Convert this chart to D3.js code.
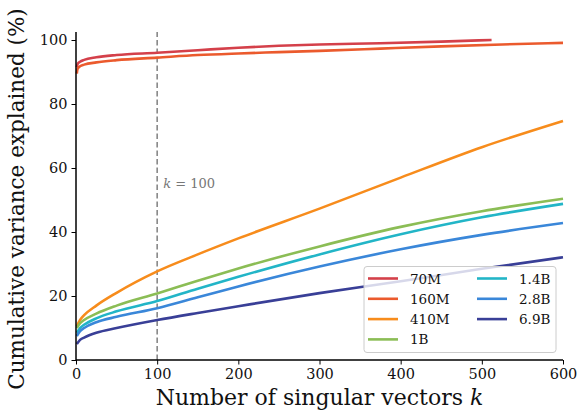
<!DOCTYPE html>
<html><head><meta charset="utf-8">
<script src="https://cdn.jsdelivr.net/npm/d3@7"></script>
<style>body{margin:0;background:#fff}svg{display:block}</style>
</head><body>
<svg id="c" width="577" height="413"></svg>
<script>
const seriesNames = ["70M","160M","410M","1B","1.4B","2.8B","6.9B"];
const seriesColors = ["#d4404a","#eb5a2d","#f78c1c","#8bbd55","#22b5c7","#3a87d9","#393f97"];
const kRed70 = [1,2,5,10,25,50,100,150,200,250,300,375,450,512];
const v70M =   [91.5,92.5,93.2,93.8,94.6,95.3,96.0,96.8,97.6,98.2,98.6,99.0,99.5,100];
const kRed160 = [1,2,5,10,25,50,100,150,200,250,300,375,450,525,600];
const v160M =   [89.5,91,91.8,92.3,93.0,93.7,94.5,95.3,95.8,96.2,96.6,97.3,98.0,98.6,99.1];
const kGrid = [1,5,10,25,50,100,150,200,300,400,500,600];
const v410M = [10.5,12.5,14,17,21,27.7,33,38,47.3,57,66.5,74.7];
const v1B   = [10,11.5,12.5,14.5,17,20.8,24.8,28.6,35.5,41.6,46.5,50.4];
const v14B  = [8.5,10,11,13,15.2,18.4,22.3,26,33,39.3,44.6,48.8];
const v28B  = [7.5,9,10,11.8,13.5,16.2,19.6,23,29.2,34.6,39.1,42.8];
const v69B  = [5,6.3,7,8.5,10,12.5,14.7,16.8,20.9,24.6,28.5,32.1];
const xTicks = [0,100,200,300,400,500,600];
const yTicks = [0,20,40,60,80,100];
const kMarker = 100;

const series = [
  {k:kRed70, v:v70M}, {k:kRed160, v:v160M}, {k:kGrid, v:v410M}, {k:kGrid, v:v1B},
  {k:kGrid, v:v14B}, {k:kGrid, v:v28B}, {k:kGrid, v:v69B}
].map((s,i)=>({name:seriesNames[i], color:seriesColors[i], pts:s.k.map((k,j)=>[k,s.v[j]])}));

const svg = d3.select("#c");
const x = d3.scaleLinear().domain([0,600]).range([76,563]);
const y = d3.scaleLinear().domain([0,102.5]).range([360,32]);
const font = "'DejaVu Serif', serif";

// dashed marker
svg.append("line").attr("x1",x(kMarker)).attr("x2",x(kMarker)).attr("y1",y(0)).attr("y2",y(102.5))
  .attr("stroke","#888").attr("stroke-width",1.6).attr("stroke-dasharray","5.5,3");
const ann = svg.append("text").attr("x",x(kMarker)+6).attr("y",188).attr("fill","#777")
  .attr("font-family",font).attr("font-size",13);
ann.append("tspan").attr("font-style","italic").text("k");
ann.append("tspan").text(" = 100");

const line = d3.line().x(d=>x(d[0])).y(d=>y(d[1])).curve(d3.curveMonotoneX);
series.forEach(s=>{
  svg.append("path").attr("d",line(s.pts)).attr("fill","none")
    .attr("stroke",s.color).attr("stroke-width",2.6).attr("stroke-linecap","butt");
});

// axes
const xa = svg.append("g").attr("transform",`translate(0,${y(0)})`)
  .call(d3.axisBottom(x).tickValues(xTicks).tickSize(4.5).tickPadding(4));
const ya = svg.append("g").attr("transform",`translate(${x(0)},0)`)
  .call(d3.axisLeft(y).tickValues(yTicks).tickSize(4.5).tickPadding(4));
[xa,ya].forEach(g=>{
  g.selectAll("text").attr("font-family",font).attr("font-size",14.5).attr("fill","#111");
  g.selectAll(".tick line").attr("stroke","#000").attr("stroke-width",1);
  g.select(".domain").attr("stroke","#000").attr("stroke-width",1.5);
});
xa.select(".domain").attr("d",`M${x(0)},0H${x(600)}`);
ya.select(".domain").attr("d",`M0,${y(0)}V${y(102.5)}`);

// axis labels
const xl = svg.append("text").attr("x",(x(0)+x(600))/2).attr("y",405).attr("text-anchor","middle")
  .attr("font-family",font).attr("font-size",22).attr("fill","#111");
xl.append("tspan").text("Number of singular vectors ");
xl.append("tspan").attr("font-style","italic").text("k");
svg.append("text").attr("transform",`translate(24,${(y(0)+y(102.5))/2+3}) rotate(-90)`)
  .attr("text-anchor","middle").attr("font-family",font).attr("font-size",21.5).attr("fill","#111")
  .text("Cumulative variance explained (%)");

// legend
const lg = svg.append("g");
lg.append("rect").attr("x",364).attr("y",266.5).attr("width",192).attr("height",86).attr("rx",3)
  .attr("fill","rgba(255,255,255,0.8)").attr("stroke","#ccc").attr("stroke-width",1);
series.forEach((s,i)=>{
  const col = i<4?0:1, row = i<4?i:i-4;
  const lx = 368 + col*109, ly = 278.5 + row*20.3;
  lg.append("line").attr("x1",lx).attr("x2",lx+30).attr("y1",ly).attr("y2",ly)
    .attr("stroke",s.color).attr("stroke-width",2.6);
  lg.append("text").attr("x",lx+42).attr("y",ly+5).attr("font-family",font).attr("font-size",13.5)
    .attr("fill","#111").text(s.name);
});
</script>
</body></html>
